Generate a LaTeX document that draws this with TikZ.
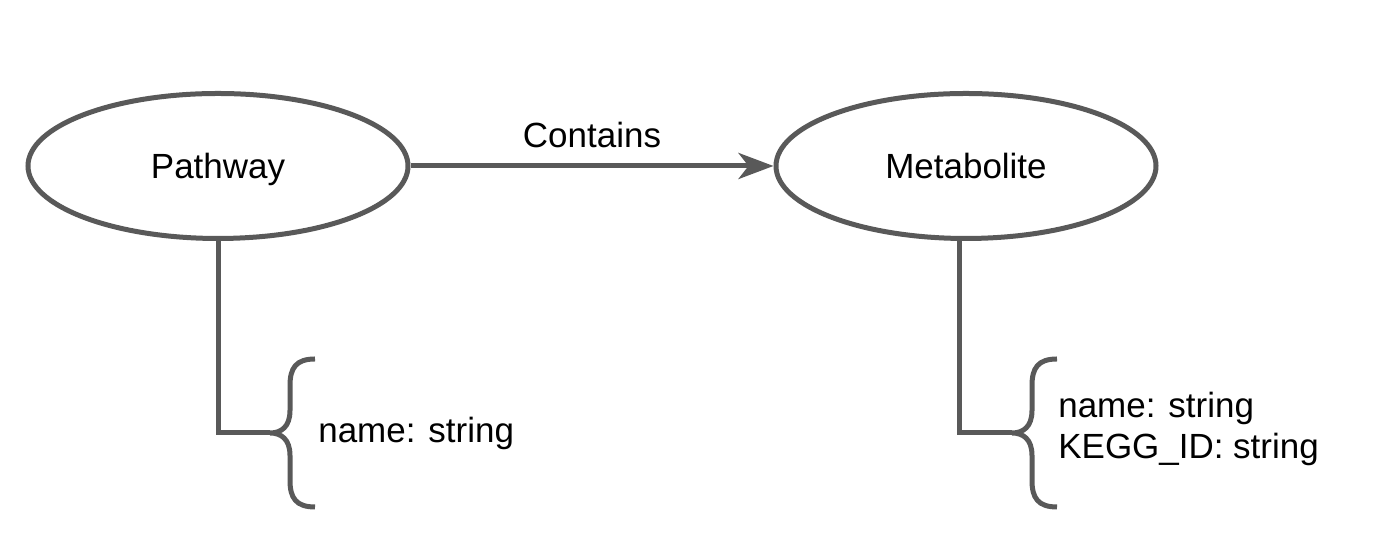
\documentclass[tikz,border=0pt]{standalone}
\usepackage{fontspec}
\setmainfont{Liberation Sans}
\usepackage{xcolor}
\definecolor{lineGray}{HTML}{595959}
\usetikzlibrary{positioning,calc,arrows.meta,shapes.geometric}
\tikzset{%
  entityNode/.style={%
    ellipse,
    draw=lineGray,
    line width=0.1cm,
    minimum width=7.6cm,
    minimum height=2.9cm,
    text depth=0pt,
    font=\fontsize{19.9}{23.3}\selectfont
  },
  linkLine/.style={%
    -{Stealth[length=0.7cm,width=0.52cm,inset=0.2cm]},
    line width=0.1cm,
    color=lineGray
  },
  linkLabel/.style={%
    text=black,
    font=\fontsize{19.9}{23.3}\selectfont
  },
  attrLine/.style={%
    line width=0.1cm,
    color=lineGray
  },
  attrText/.style={%
    anchor=west,
    align=left,
    inner sep=0pt,
    font=\fontsize{19.9}{23.3}\selectfont
  },
  attrBrace/.pic={%
    \draw[attrLine] (0.9,1.48) .. controls (0.52,1.48) and (0.4,1.3) .. (0.4,0.95)
      -- (0.4,0.45) .. controls (0.4,0.12) and (0.22,0) .. (0,0)
      .. controls (0.22,0) and (0.4,-0.12) .. (0.4,-0.45)
      -- (0.4,-0.95) .. controls (0.4,-1.3) and (0.52,-1.48) .. (0.9,-1.48);
  }
}

\begin{document}
\begin{tikzpicture}
  \useasboundingbox (0,0) rectangle (27.5,11.04);

  \node[entityNode] (pathway) at (4.36,7.72) {Pathway};
  \node[entityNode, right=7.26cm of pathway] (metabolite) {Metabolite};

  \draw[linkLine] (pathway) -- node[linkLabel, above=0.19cm] (containsLabel) {Contains} (metabolite);

  % attributes of Pathway
  \coordinate[below right=3.84cm and 1.04cm of pathway.south] (pathwayTip);
  \draw[attrLine] (pathway.south) |- (pathwayTip);
  \pic at (pathwayTip) {attrBrace};
  \node[attrText, right=0.96cm of pathwayTip] (pathwayAttr) {name: string};

  % attributes of Metabolite
  \coordinate (metaboliteDrop) at ([xshift=-0.14cm]metabolite.south);
  \coordinate[below right=3.84cm and 1.06cm of metaboliteDrop] (metaboliteTip);
  \draw[attrLine] (metaboliteDrop) |- (metaboliteTip);
  \pic at (metaboliteTip) {attrBrace};
  \node[attrText, right=0.92cm of metaboliteTip, yshift=0.08cm] (metaboliteAttr) {name: string\\KEGG\_ID: string};
\end{tikzpicture}
\end{document}
